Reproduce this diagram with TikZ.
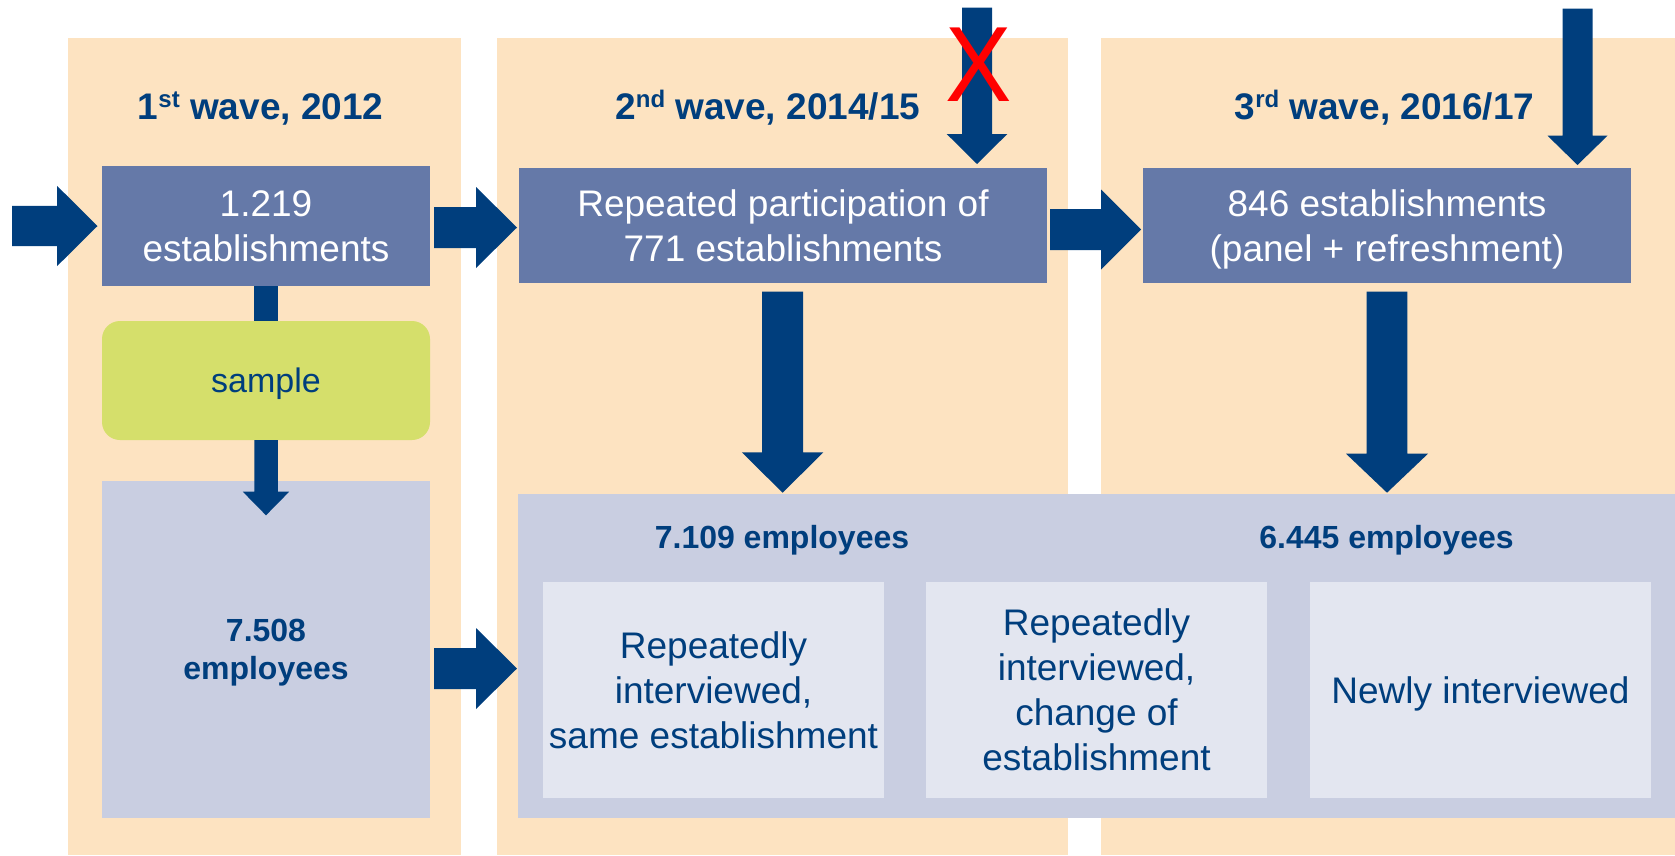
\documentclass[tikz,border=0pt]{standalone}
\usepackage{fontspec}
\usepackage{graphicx}
\setmainfont{Liberation Sans}
\usetikzlibrary{calc}

\definecolor{navy}{RGB}{0,62,125}
\definecolor{wavebg}{RGB}{253,227,193}
\definecolor{estabblue}{RGB}{101,121,168}
\definecolor{emplgrey}{RGB}{201,206,225}
\definecolor{innergrey}{RGB}{227,230,240}
\definecolor{samplegreen}{RGB}{213,223,107}

% superscript of the ordinal in the wave titles
\newcommand\ordsup[1]{\raisebox{12pt}{\fontsize{24}{24}\selectfont #1}}
% a line whose descenders do not count for vertical centring
\newcommand\nodepth[1]{\raisebox{0pt}[\height][0pt]{#1}}

% fat block arrow pointing right: start, tip, shaft half width, head half width, head length
\newcommand\blockright[5]{%
  \fill[navy] let \p1=(#1), \p2=(#2) in
    (\x1,\y1+#3) -- (\x2-#5,\y1+#3) -- (\x2-#5,\y1+#4) -- (\x2,\y1) --
    (\x2-#5,\y1-#4) -- (\x2-#5,\y1-#3) -- (\x1,\y1-#3) -- cycle;}
% fat block arrow pointing down: start, tip, shaft half width, head half width, head length
\newcommand\blockdown[5]{%
  \fill[navy] let \p1=(#1), \p2=(#2) in
    (\x1-#3,\y1) -- (\x1-#3,\y2+#5) -- (\x1-#4,\y2+#5) -- (\x1,\y2) --
    (\x1+#4,\y2+#5) -- (\x1+#3,\y2+#5) -- (\x1+#3,\y1) -- cycle;}

\begin{document}
\begin{tikzpicture}[x=1pt,y=-1pt,
  every node/.style={inner sep=0pt, outer sep=0pt},
  wavecol/.style={fill=wavebg, minimum height=817pt},
  wavetitle/.style={text=navy, font=\bfseries\fontsize{37}{44}\selectfont, anchor=base},
  estab/.style={fill=estabblue, text=white, align=center,
    font=\fontsize{37}{45}\selectfont},
  samplebox/.style={fill=samplegreen, rounded corners=18pt, text=navy,
    font=\fontsize{34}{40}\selectfont},
  emplbox/.style={fill=emplgrey},
  emplabel/.style={text=navy, align=center, font=\bfseries\fontsize{32}{38.3}\selectfont},
  groupbox/.style={fill=innergrey, text=navy, align=center,
    minimum width=341pt, minimum height=216pt, font=\fontsize{37}{45}\selectfont}]

\useasboundingbox (0,0) rectangle (1675,855);

% the three survey waves
\node[wavecol, minimum width=393pt] (col1) at (264.5,446.5) {};
\node[wavecol, minimum width=571pt] (col2) at (782.5,446.5) {};
\node[wavecol, minimum width=574pt] (col3) at (1388,446.5) {};

\node[wavetitle] (title1) at (260.7,119) {1\ordsup{st} wave, 2012};
\node[wavetitle] (title2) at (767.8,119) {2\ordsup{nd} wave, 2014/15};
\node[wavetitle] (title3) at (1384.6,119.5) {3\ordsup{rd} wave, 2016/17};

% establishment level
\node[estab, minimum width=328pt, minimum height=120pt] (box1) at (266,226)
  {1.219\\establishments};
\node[estab, minimum width=528pt, minimum height=115pt] (box2) at (783,225.5)
  {Repeated participation of\\771 establishments};
\node[estab, minimum width=488pt, minimum height=115pt] (box3) at (1387,225.5)
  {846 establishments\\\nodepth{(panel + refreshment)}};

\node[samplebox, minimum width=328pt, minimum height=119pt] (sample) at (266,380.5)
  {\nodepth{sample}};

% employee level
\node[emplbox, minimum width=328pt, minimum height=337pt] (emp1) at (266,649.5) {};
\node[emplabel] (emp1text) at (emp1) {7.508\\\nodepth{employees}};

\node[emplbox, minimum width=1157pt, minimum height=324pt] (big) at (1096.5,656) {};
\node[emplabel, anchor=base] (emp2text) at (782,548) {7.109 employees};
\node[emplabel, anchor=base] (emp3text) at (1386.5,548.3) {6.445 employees};

\node[groupbox] (in1) at (713.5,690) {Repeatedly\\interviewed,\\same establishment};
\node[groupbox] (in2) at (1096.5,690) {Repeatedly\\interviewed,\\change of\\establishment};
\node[groupbox] (in3) at (1480.5,690) {\nodepth{Newly interviewed}};

% flow arrows
\coordinate (src) at (12,226);
\coordinate (feed2) at (977,7.5);
\coordinate (feed3) at (1577.5,8.5);

\blockright{src}{$(box1.west)+(-4.5,0)$}{20.2pt}{40.2pt}{40.5pt}
\blockright{$(box1.east)+(4,1.5)$}{$(box2.west)+(-2,0)$}{20.5pt}{40.5pt}{41pt}
\blockright{$(box2.east)+(3,4)$}{$(box3.west)+(-2,0)$}{20.5pt}{40pt}{40pt}
\blockright{$(emp1.east)+(4,19)$}{$(big.west)+(-1,0)$}{20.5pt}{40.5pt}{41pt}

\blockdown{feed2}{$(box2.north)+(0,-4)$}{15pt}{30.3pt}{30pt}
\blockdown{feed3}{$(box3.north)+(0,-3)$}{15pt}{30pt}{29.3pt}
\blockdown{$(box2.south)+(-0.4,8.5)$}{$(big.north)+(0,-1.3)$}{20.4pt}{40.8pt}{40.4pt}
\blockdown{$(box3.south)+(0,8.5)$}{$(big.north)+(0,-1.3)$}{20.3pt}{41pt}{39pt}

\fill[navy] ($(box1.south)+(-11.75,0)$) rectangle ($(sample.north)+(11.75,0)$);
\blockdown{sample.south}{$(emp1.north)+(0,34.3)$}{11.75pt}{23.2pt}{23.6pt}

% the cancelled feed into the second wave
\node[text=red, font=\fontsize{107}{107}\selectfont] (cross) at (978.2,64.7)
  {\scalebox{0.93}[1]{X}};

\end{tikzpicture}
\end{document}
